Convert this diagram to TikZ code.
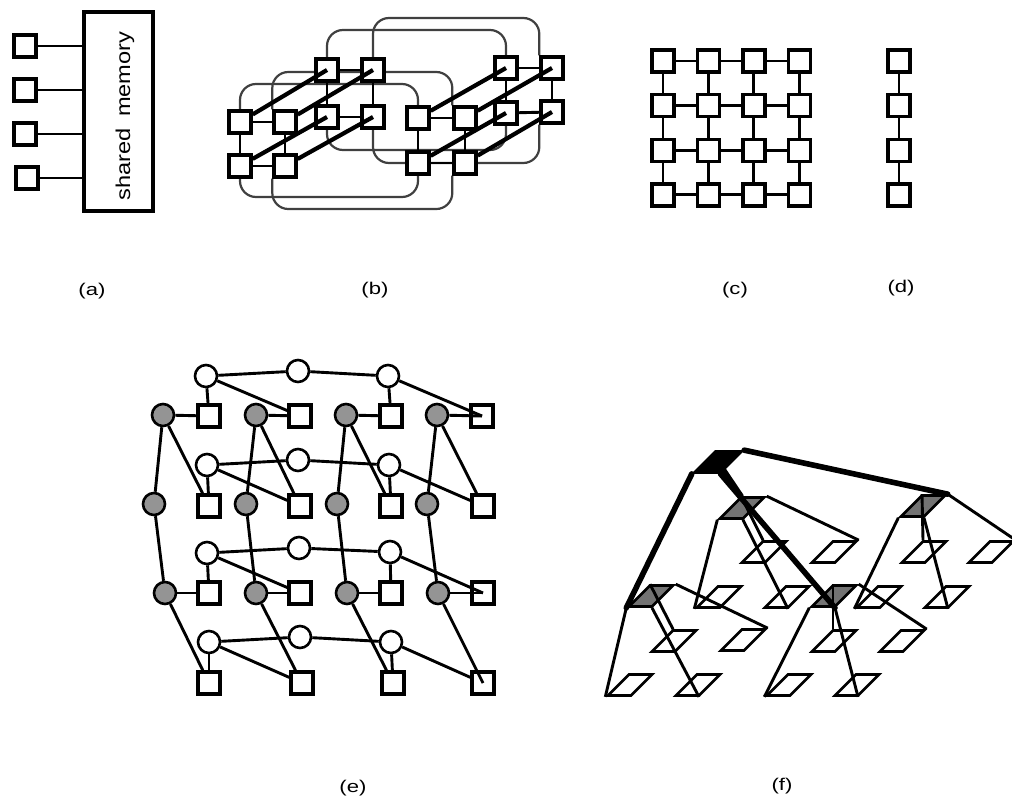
\documentclass[tikz,border=0pt]{standalone}
\usepackage{fontspec}
\setmainfont{Liberation Sans}
\newfontfamily\memfont[FakeStretch=1.18]{Liberation Sans}
\newfontfamily\capfont[FakeStretch=1.3]{Liberation Sans}
\usetikzlibrary{positioning,backgrounds}
\tikzset{
  sq/.style={draw, rectangle, fill=white, minimum size=22pt, inner sep=0pt, line width=3.4pt},
  wcirc/.style={draw, circle, fill=white, minimum size=22pt, inner sep=0pt, line width=2.6pt},
  gcirc/.style={draw, circle, fill=black!42, minimum size=22pt, inner sep=0pt, line width=2.6pt},
  pgram/.style={draw, rectangle, fill=white, minimum width=23pt, minimum height=21pt, inner sep=0pt, line width=2.7pt, xslant=1, transform shape},
  hubp/.style={pgram, fill=black!55},
  rootp/.style={pgram, fill=black, minimum width=26pt},
  lnk/.style={line width=2.9pt},
  thk/.style={line width=4.2pt},
  thklnk/.style={line width=5.6pt, line cap=round},
  hloop/.style={line width=2.2pt, draw=black!75, rounded corners=16pt},
  captxt/.style={font=\capfont\fontsize{17}{19}\selectfont},
}
\begin{document}
\begin{tikzpicture}[x=1pt, y=-1pt]
\useasboundingbox (0,0) rectangle (1012,800);

\node[sq] (cpu1) at (25,46) {};
\node[sq] (cpu2) at (25,90) {};
\node[sq] (cpu3) at (25,134) {};
\node[sq] (cpu4) at (27,178) {};
\node[draw, rectangle, line width=3.6pt, minimum width=69pt, minimum height=199pt, inner sep=0pt] (mem) at (118.5,111.5) {};
\node[rotate=90, font=\memfont\fontsize{20}{22}\selectfont] (memtxt) at (125,116) {shared\hspace{5pt} memory};
\draw[lnk] (cpu1) -- (cpu1 -| mem.west);
\draw[lnk] (cpu2) -- (cpu2 -| mem.west);
\draw[lnk] (cpu3) -- (cpu3 -| mem.west);
\draw[lnk] (cpu4) -- (cpu4 -| mem.west);

\node[sq] (la) at (240,122) {};
\node[sq] (lb) at (285,122) {};
\node[sq] (lc) at (240,166) {};
\node[sq] (ld) at (285,166) {};
\node[sq] (le) at (327,70) {};
\node[sq] (lf) at (373,70) {};
\node[sq] (lg) at (327,117) {};
\node[sq] (lh) at (373,117) {};
\node[sq] (ra) at (418,118) {};
\node[sq] (rb) at (465,118) {};
\node[sq] (rc) at (418,163) {};
\node[sq] (rd) at (465,163) {};
\node[sq] (re) at (506,68) {};
\node[sq] (rf) at (552,68) {};
\node[sq] (rg) at (506,113) {};
\node[sq] (rh) at (552,112) {};

\draw[lnk] (la) -- (lb);
\draw[lnk] (lc) -- (ld);
\draw[lnk] (la) -- (lc);
\draw[lnk] (lb) -- (ld);
\draw[lnk] (le) -- (lf);
\draw[lnk] (lg) -- (lh);
\draw[lnk] (le) -- (lg);
\draw[lnk] (lf) -- (lh);
\draw[lnk] (ra) -- (rb);
\draw[lnk] (rc) -- (rd);
\draw[lnk] (ra) -- (rc);
\draw[lnk] (rb) -- (rd);
\draw[lnk] (re) -- (rf);
\draw[lnk] (rg) -- (rh);
\draw[lnk] (re) -- (rg);
\draw[lnk] (rf) -- (rh);
\draw[thk] (la) -- (le.center);
\draw[thk] (lb) -- (lf.center);
\draw[thk] (lc) -- (lg.center);
\draw[thk] (ld) -- (lh.center);
\draw[thk] (ra) -- (re.center);
\draw[thk] (rb) -- (rf.center);
\draw[thk] (rc) -- (rg.center);
\draw[thk] (rd) -- (rh.center);

\begin{pgfonlayer}{background}
\draw[hloop] (le.north) -- (le.north |- 0,30) -- (re.north |- 0,30) -- (re.north);
\draw[hloop] (lf.north) -- (lf.north |- 0,18) -- (rf.north west |- 0,18) -- (rf.north west);
\draw[hloop] (la.north) -- (la.north |- 0,84) -- (ra.north |- 0,84) -- (ra.north);
\draw[hloop] (lb.north west) -- (lb.north west |- 0,72) -- (rb.north west |- 0,72) -- (rb.north west);
\draw[hloop] (lc.south) -- (lc.south |- 0,197) -- (rc.south |- 0,197) -- (rc.south);
\draw[hloop] (ld.south west) -- (ld.south west |- 0,209) -- (rd.south west |- 0,209) -- (rd.south west);
\draw[hloop] (lg.south) -- (lg.south |- 0,150) -- (rg.south |- 0,150) -- (rg.south);
\draw[hloop] (lh.south) -- (lh.south |- 0,163) -- (rh.south west |- 0,163) -- (rh.south west);
\end{pgfonlayer}

\node[sq] (c11) at (663,61) {};
\node[sq, right=20pt of c11] (c12) {};
\node[sq, right=20pt of c12] (c13) {};
\node[sq, right=20pt of c13] (c14) {};
\node[sq, below=19.2pt of c11] (c21) {};
\node[sq, right=20pt of c21] (c22) {};
\node[sq, right=20pt of c22] (c23) {};
\node[sq, right=20pt of c23] (c24) {};
\node[sq, below=19.2pt of c21] (c31) {};
\node[sq, right=20pt of c31] (c32) {};
\node[sq, right=20pt of c32] (c33) {};
\node[sq, right=20pt of c33] (c34) {};
\node[sq, below=19.2pt of c31] (c41) {};
\node[sq, right=20pt of c41] (c42) {};
\node[sq, right=20pt of c42] (c43) {};
\node[sq, right=20pt of c43] (c44) {};
\draw[lnk] (c11) -- (c12);
\draw[lnk] (c12) -- (c13);
\draw[lnk] (c13) -- (c14);
\draw[lnk] (c21) -- (c22);
\draw[lnk] (c22) -- (c23);
\draw[lnk] (c23) -- (c24);
\draw[lnk] (c31) -- (c32);
\draw[lnk] (c32) -- (c33);
\draw[lnk] (c33) -- (c34);
\draw[lnk] (c41) -- (c42);
\draw[lnk] (c42) -- (c43);
\draw[lnk] (c43) -- (c44);
\draw[lnk] (c11) -- (c21);
\draw[lnk] (c21) -- (c31);
\draw[lnk] (c31) -- (c41);
\draw[lnk] (c12) -- (c22);
\draw[lnk] (c22) -- (c32);
\draw[lnk] (c32) -- (c42);
\draw[lnk] (c13) -- (c23);
\draw[lnk] (c23) -- (c33);
\draw[lnk] (c33) -- (c43);
\draw[lnk] (c14) -- (c24);
\draw[lnk] (c24) -- (c34);
\draw[lnk] (c34) -- (c44);

\node[sq] (d1) at (899,61) {};
\node[sq, below=19.2pt of d1] (d2) {};
\node[sq, below=19.2pt of d2] (d3) {};
\node[sq, below=19.2pt of d3] (d4) {};
\draw[lnk] (d1) -- (d2);
\draw[lnk] (d2) -- (d3);
\draw[lnk] (d3) -- (d4);

\node[sq] (s11) at (209,416) {};
\node[sq] (s12) at (300,416) {};
\node[sq] (s13) at (391,416) {};
\node[sq] (s14) at (482,416) {};
\node[sq] (s21) at (209,506) {};
\node[sq] (s22) at (300,506) {};
\node[sq] (s23) at (391,506) {};
\node[sq] (s24) at (483,506) {};
\node[sq] (s31) at (209,593) {};
\node[sq] (s32) at (300,593) {};
\node[sq] (s33) at (391,593) {};
\node[sq] (s34) at (483,593) {};
\node[sq] (s41) at (209,683) {};
\node[sq] (s42) at (302,683) {};
\node[sq] (s43) at (393,683) {};
\node[sq] (s44) at (483,683) {};

\node[wcirc] (w11) at (206,376) {};
\node[wcirc] (w12) at (298,371) {};
\node[wcirc] (w13) at (388,376) {};
\node[wcirc] (w21) at (207,465) {};
\node[wcirc] (w22) at (298,460) {};
\node[wcirc] (w23) at (389,465) {};
\node[wcirc] (w31) at (207,553) {};
\node[wcirc] (w32) at (299,548) {};
\node[wcirc] (w33) at (390,552) {};
\node[wcirc] (w41) at (209,642) {};
\node[wcirc] (w42) at (300,637) {};
\node[wcirc] (w43) at (391,642) {};

\node[gcirc] (g11) at (163,415) {};
\node[gcirc] (g12) at (256,415) {};
\node[gcirc] (g13) at (346,415) {};
\node[gcirc] (g14) at (437,415) {};
\node[gcirc] (g21) at (154,504) {};
\node[gcirc] (g22) at (246,504) {};
\node[gcirc] (g23) at (337,504) {};
\node[gcirc] (g24) at (427,504) {};
\node[gcirc] (g31) at (165,593) {};
\node[gcirc] (g32) at (256,593) {};
\node[gcirc] (g33) at (347,593) {};
\node[gcirc] (g34) at (438,593) {};

\draw[lnk] (w11) -- (w12);
\draw[lnk] (w12) -- (w13);
\draw[lnk] (w11) -- (s11);
\draw[lnk] (w11) -- (s12);
\draw[lnk] (w13) -- (s13);
\draw[lnk] (w13) -- (s14.center);
\draw[lnk] (w21) -- (w22);
\draw[lnk] (w22) -- (w23);
\draw[lnk] (w21) -- (s21);
\draw[lnk] (w21) -- (s22);
\draw[lnk] (w23) -- (s23);
\draw[lnk] (w23) -- (s24);
\draw[lnk] (w31) -- (w32);
\draw[lnk] (w32) -- (w33);
\draw[lnk] (w31) -- (s31);
\draw[lnk] (w31) -- (s32);
\draw[lnk] (w33) -- (s33);
\draw[lnk] (w33) -- (s34.center);
\draw[lnk] (w41) -- (w42);
\draw[lnk] (w42) -- (w43);
\draw[lnk] (w41) -- (s41);
\draw[lnk] (w41) -- (s42);
\draw[lnk] (w43) -- (s43);
\draw[lnk] (w43) -- (s44);

\draw[lnk] (g11) -- (s11);
\draw[lnk] (g12) -- (s12);
\draw[lnk] (g13) -- (s13);
\draw[lnk] (g14) -- (s14.center);
\draw[lnk] (g31) -- (s31);
\draw[lnk] (g32) -- (s32);
\draw[lnk] (g33) -- (s33);
\draw[lnk] (g34) -- (s34.center);
\draw[lnk] (g11) -- (g21);
\draw[lnk] (g12) -- (g22);
\draw[lnk] (g13) -- (g23);
\draw[lnk] (g14) -- (g24);
\draw[lnk] (g11) -- (s21);
\draw[lnk] (g12) -- (s22);
\draw[lnk] (g13) -- (s23);
\draw[lnk] (g14) -- (s24);
\draw[lnk] (g21) -- (g31);
\draw[lnk] (g22) -- (g32);
\draw[lnk] (g23) -- (g33);
\draw[lnk] (g24) -- (g34);
\draw[lnk] (g31) -- (s41);
\draw[lnk] (g32) -- (s42);
\draw[lnk] (g33) -- (s43);
\draw[lnk] (g34) -- (s44.center);

\node[pgram] (p1) at (630,685) {};
\node[pgram] (p2) at (698,685) {};
\node[pgram] (p3) at (789,685) {};
\node[pgram] (p4) at (857,685) {};
\node[pgram] (p5) at (674,641) {};
\node[pgram] (p6) at (743,640) {};
\node[pgram] (p7) at (834,641) {};
\node[pgram] (p8) at (902,641) {};
\node[pgram] (p9) at (719,597) {};
\node[pgram] (p10) at (787,597) {};
\node[pgram] (p11) at (879,597) {};
\node[pgram] (p12) at (947,597) {};
\node[pgram] (p13) at (764,552) {};
\node[pgram] (p14) at (834,552) {};
\node[pgram] (p15) at (924,552) {};
\node[pgram] (p16) at (991,552) {};
\node[hubp] (hub1) at (651,596) {};
\node[hubp] (hub2) at (834,596) {};
\node[hubp] (hub3) at (742,508) {};
\node[hubp] (hub4) at (923,506) {};
\node[rootp] (root) at (718,462) {};

\draw[lnk] (hub1.south west) -- (p1.south west);
\draw[lnk] (hub1.south east) -- (p2.south east);
\draw[lnk] (hub1.north west) -- (p5.north west);
\draw[lnk] (hub1.north east) -- (p6.north east);
\draw[lnk] (hub2.south west) -- (p3.south west);
\draw[lnk] (hub2.south east) -- (p4.south east);
\draw[lnk] (hub2.north west) -- (p7.north west);
\draw[lnk] (hub2.north east) -- (p8.north east);
\draw[lnk] (hub3.south west) -- (p9.south west);
\draw[lnk] (hub3.south east) -- (p10.south east);
\draw[lnk] (hub3.north west) -- (p13.north west);
\draw[lnk] (hub3.north east) -- (p14.north east);
\draw[lnk] (hub4.south west) -- (p11.south west);
\draw[lnk] (hub4.south east) -- (p12.south east);
\draw[lnk] (hub4.north west) -- (p15.north west);
\draw[lnk] (hub4.north east) -- (p16.north east);
\draw[thklnk] (root.south west) -- (hub1.south west);
\draw[thklnk] (root.south east) -- (hub2.south east);
\draw[thklnk] (root.center) -- (hub3.north west);
\draw[thklnk] (root.north east) -- (hub4.north east);

\node[captxt] (capa) at (92,291) {(a)};
\node[captxt] (capb) at (375,290) {(b)};
\node[captxt] (capc) at (735,290) {(c)};
\node[captxt] (capd) at (901,288) {(d)};
\node[captxt] (cape) at (353,788) {(e)};
\node[captxt] (capf) at (782,786) {(f)};

\end{tikzpicture}
\end{document}
